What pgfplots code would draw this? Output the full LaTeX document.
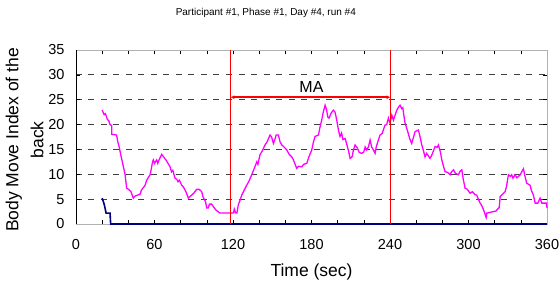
\documentclass[border=0pt]{standalone}
\usepackage{pgfplots}
\pgfplotsset{compat=1.18}
\usepackage{fontspec}
\setmainfont{Liberation Sans}
\usetikzlibrary{arrows.meta}
\definecolor{mag}{RGB}{255,0,255}
\definecolor{nav}{RGB}{0,0,128}
\definecolor{redA}{RGB}{255,0,0}
\begin{document}
\begin{tikzpicture}
\path[use as bounding box] (-76pt,-60pt) rectangle (484pt,224pt);
\begin{axis}[
  scale only axis,
  width=471pt, height=174pt,
  xmin=0, xmax=360, ymin=0, ymax=35,
  xtick={0,60,...,360},
  minor xtick={20,40,80,100,140,160,200,220,260,280,320,340},
  ytick={0,35},
  extra y ticks={5,10,15,20,25,30},
  extra y tick style={grid=major, major grid style={black!75, line width=0.8pt, dash pattern=on 6pt off 6.5pt}},
  tick align=inside,
  major tick length=4pt, minor tick length=4pt,
  tick style={black, line width=0.6pt},
  axis line style={gray!60, line width=0.8pt},
  /pgf/number format/assume math mode=true,
  tick label style={font=\fontsize{14.5}{16}\selectfont},
  xticklabel style={yshift=-12pt},
  yticklabel style={xshift=-8pt},
  xlabel={Time (sec)},
  xlabel style={at={(axis description cs:0.5,-0.299)}, anchor=base, font=\fontsize{17.5}{20}\selectfont},
  ylabel={Body Move Index of the\\back},
  ylabel style={at={(axis description cs:-0.109,0.483)}, anchor=center, align=center, font=\fontsize{17.5}{25}\selectfont},
  clip=false,
  unbounded coords=jump,
]
\addplot[nav, line width=1.6pt] coordinates {
(20,5.2) (21.5,4.0) (22.2,3.2) (23,2.2) (26,2.2) (26.5,0) (360,0)};
\addplot[mag, line width=1.3pt] coordinates {
(20,22.9) (21.5,22.0) (22.5,22.2) (24,21.0) (25,20.8) (26,20.0) (27.3,19.8) (27.3,18.0) (28.5,18.0) (31,17.9)
(32,16.5) (33,15.5) (34,14.2) (35,13.0) (36,11.8) (37.5,10.0) (38.7,7.2) (40,7.0) (42,6.5) (43.8,5.2)
(45,5.6) (47,5.8) (49,6.0) (50,6.8) (52.8,7.8) (54,8.8) (56.6,9.9) (57.5,11) (58.5,12.5) (59.1,12.9)
(60,12.2) (61.7,12.9) (62.5,12.2) (64,13.2) (65.5,14.0) (67,13.5) (69,12.8) (71.9,11.5) (73,10.5) (74,10.8)
(75.7,9.2) (77,9.0) (78,8.5) (79,8.8) (80.8,7.8) (82,7.5) (84,6.5) (85.9,5.2) (87,5.5) (88.4,5.8)
(90,6.2) (92.3,7.0) (94,7.0) (96.1,6.5) (97,5.5) (99,4.5) (99.9,3.2) (101,3.2) (102,4.0) (103.7,4.0)
(105,3.5) (107,2.8) (110,2.2) (114,2.2) (118,2.2) (120.3,2.2) (121,3.0) (122,2.2) (123,2.2) (124,3.8)
(125,4.5) (126.7,5.8) (128,6.5) (130.5,7.8) (132,8.5) (134.3,9.9) (136,11) (138.2,12.5) (139,12) (140.7,14.0)
(142,14.5) (144.5,15.9) (146,16.5) (148.3,17.9) (149.5,17.5) (150.9,16.2) (152,17) (153,17.9) (154.7,17.9) (156,16.5)
(157.3,15.9) (159,15.5) (161.1,14.9) (163,14) (164.9,13.5) (166,13) (168.7,11.2) (170,11.6) (172.6,11.5) (174,12.0)
(176.4,12.2) (178,13.5) (180.2,14.9) (181.5,16.5) (182.7,17.6) (185.3,17.9) (186.5,19.5) (187.8,20.9) (189,22.5) (190.4,23.9)
(191.5,23) (192.5,21.5) (193.4,21.3) (195,22.3) (196.7,22.9) (198,22.5) (199.3,20.9) (200.5,19) (201.8,17.6) (203,18.3)
(204,17) (205.7,17.2) (207,16) (208.5,14.5) (209.5,13.2) (211,13.5) (212,14.8) (213.3,15.9) (215,15.3) (216.5,14.4)
(218.4,14.2) (220,14.5) (221,15.5) (222.2,14.9) (223.5,15.5) (224.8,16.9) (226,15.5) (227.5,14.8) (228.6,14.2) (229.5,15.5)
(231,16.8) (232.4,17.9) (234,18.2) (236.2,19.9) (237.5,20.0) (238.8,21.3) (240,20.3) (241.4,21.9) (242.6,20.9) (244,22.0)
(245.2,22.9) (246.5,23.5) (247.7,23.9) (249,23.2) (249.8,23.4) (250.5,22) (251.5,20.3) (252.5,19.5) (254,18.2) (255,17.2)
(256.6,16.2) (258,17.5) (259.2,18.6) (261.7,18.9) (263,17.5) (264.3,15.9) (265.5,14.8) (266.8,13.5) (268,14.2) (270.6,13.2)
(272,13.9) (274.5,15.6) (276,15.4) (277,15.9) (278.5,14.5) (279.6,12.9) (281,11.5) (282.1,10.5) (284,10.4) (285.9,9.9)
(287,10.5) (288.5,10.9) (290,10.2) (292.3,9.9) (293.5,10.6) (294.9,10.9) (296,9) (297.4,7.2) (299,7.0) (301.2,6.2)
(303,6.5) (305,5.9) (306.3,5.8) (307.5,5.0) (308.9,4.2) (310,3.8) (312,2.5) (313.5,1.3) (314,2.2) (316,2.3)
(319,2.5) (321,2.6) (322.9,3.2) (323.5,3.3) (324.2,5.5) (326,6.0) (328,6.5) (329,7.5) (330.5,9.9) (332,9.6)
(333,9.9) (334,9.2) (335.6,9.9) (337,9.3) (339.5,9.9) (342,11.1) (343,9.8) (344.5,8.2) (347.1,7.8) (348,6.8)
(349.6,5.8) (351,4.2) (353,4.2) (354.7,5.2) (356,4.2) (359.6,4.2) (360,3.2)};
\addplot[redA, line width=1.1pt] coordinates {(118,0) (118,35) (179,nan) (240.4,0) (240.4,35)};
\addplot[redA, line width=1.6pt, {Latex[length=4pt,width=4pt]}-{Latex[length=4pt,width=4pt]}] coordinates {(118,25.5) (240.4,25.5)};
\draw[black, line width=0.8pt] (axis cs:0,0) -- (axis cs:0,35);
\node[font=\fontsize{16}{18}\selectfont] at (axis cs:180,27.5) {MA};
\node[font=\fontsize{10}{12}\selectfont] at (axis description cs:0.403,1.213) {Participant \#1, Phase \#1, Day \#4, run \#4};
\end{axis}
\end{tikzpicture}
\end{document}
